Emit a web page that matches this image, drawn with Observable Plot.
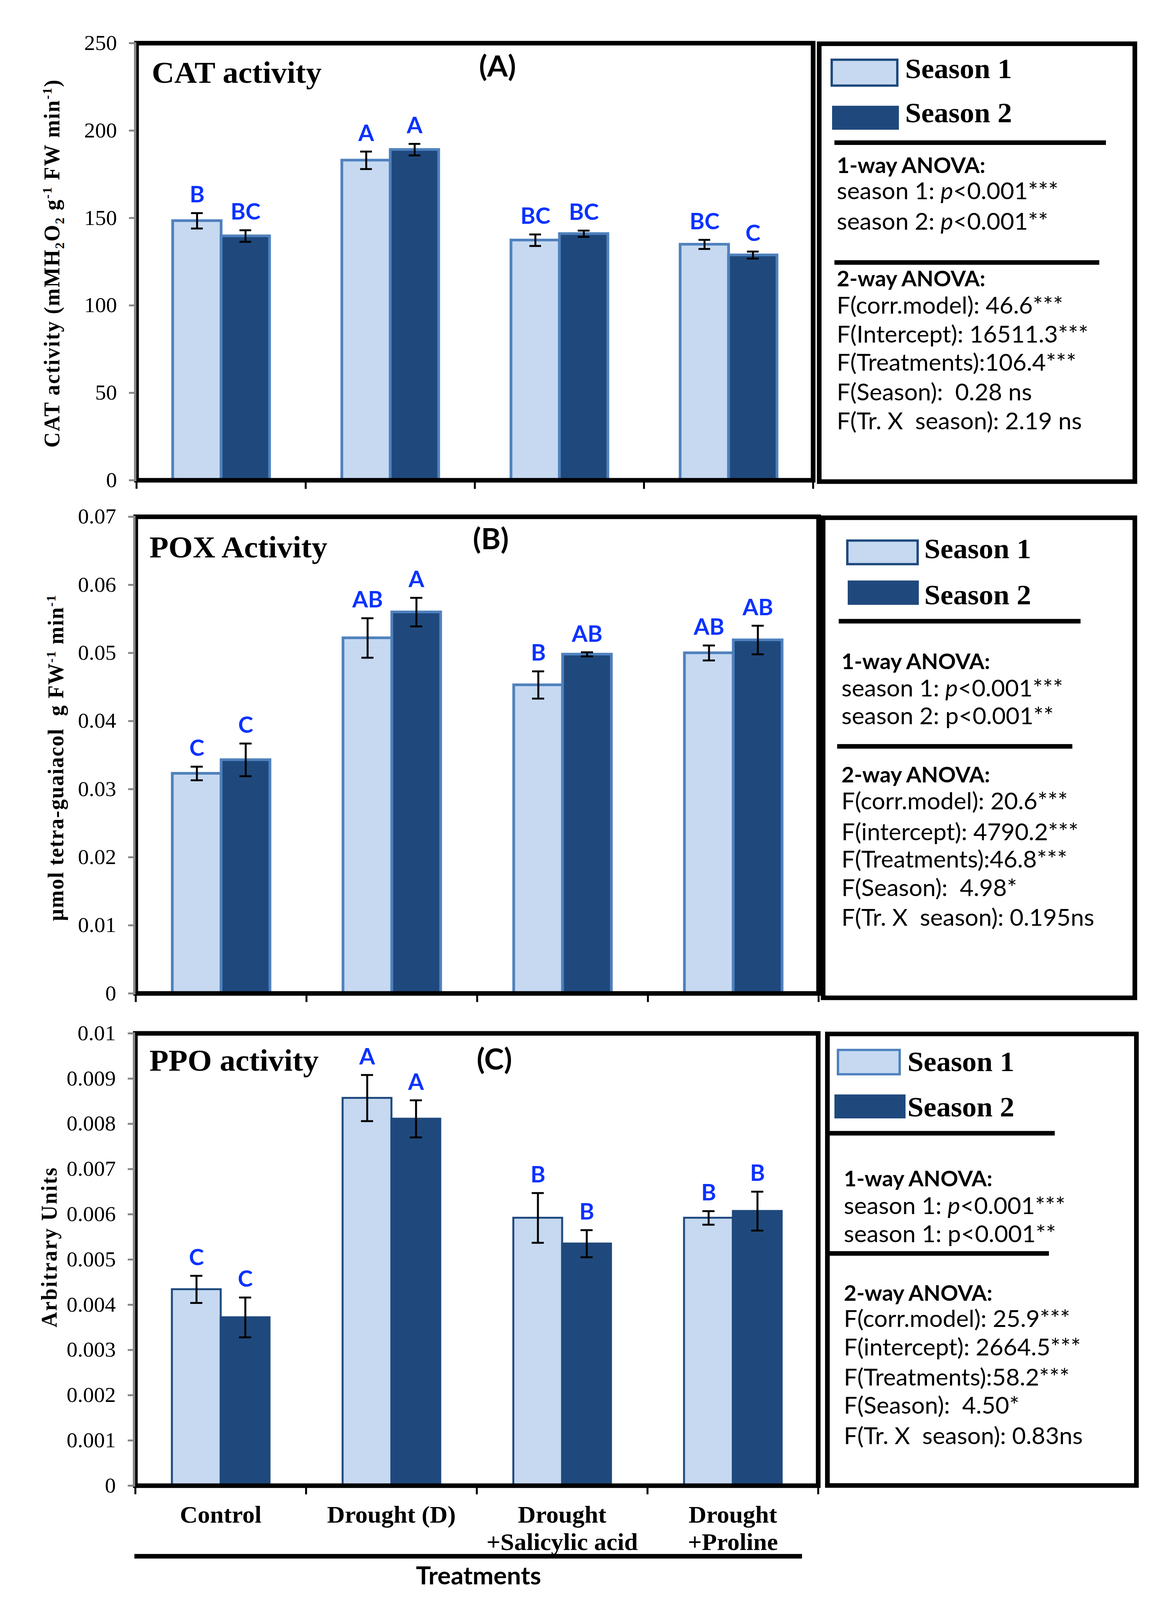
<!DOCTYPE html>
<html><head><meta charset="utf-8">
<script src="https://cdn.jsdelivr.net/npm/d3@7"></script>
<script src="https://cdn.jsdelivr.net/npm/@observablehq/plot@0.6"></script>
<style>
html,body{margin:0;padding:0;background:#fff;overflow:hidden;}
#viewport{position:relative;overflow:hidden;background:#fff;}
#page{position:absolute;left:0;top:0;width:2995px;height:4206px;background:#fff;transform-origin:0 0;}
sub,sup{font-size:0.6em;line-height:0;}
</style></head><body><div id="viewport"><div id="page"></div></div>
<script>
// ---------------- data ----------------
const treatments = ["Control", "Drought (D)", "Drought\n+Salicylic acid", "Drought\n+Proline"];
const seasons = ["Season 1", "Season 2"];

const catS1 = [148.4, 183.0, 137.3, 134.9];
const catS1Err = [4.4, 5.0, 3.3, 2.6];
const catS2 = [139.7, 189.1, 141.0, 128.8];
const catS2Err = [3.3, 3.3, 1.8, 2.0];
const catS1Letters = ["B", "A", "BC", "BC"];
const catS2Letters = ["BC", "A", "BC", "C"];
const catTicks = [0, 50, 100, 150, 200, 250];

const poxS1 = [0.0323, 0.0522, 0.0453, 0.0500];
const poxS1Err = [0.0010, 0.0029, 0.0020, 0.0011];
const poxS2 = [0.0343, 0.0560, 0.0498, 0.0519];
const poxS2Err = [0.0024, 0.0021, 0.0003, 0.0021];
const poxS1Letters = ["C", "AB", "B", "AB"];
const poxS2Letters = ["C", "A", "AB", "AB"];
const poxTicks = [0, 0.01, 0.02, 0.03, 0.04, 0.05, 0.06, 0.07];

const ppoS1 = [0.00434, 0.00857, 0.00592, 0.00592];
const ppoS1Err = [0.00030, 0.00051, 0.00055, 0.00015];
const ppoS2 = [0.00372, 0.00811, 0.00535, 0.00607];
const ppoS2Err = [0.00044, 0.00041, 0.00030, 0.00043];
const ppoS1Letters = ["C", "A", "B", "B"];
const ppoS2Letters = ["C", "A", "B", "B"];
const ppoTicks = [0, 0.001, 0.002, 0.003, 0.004, 0.005, 0.006, 0.007, 0.008, 0.009, 0.01];

const catOneWay = ["season 1: p<0.001***", "season 2: p<0.001**"];
const catOneWayItalicP = [true, true];
const catTwoWay = ["F(corr.model): 46.6***", "F(Intercept): 16511.3***", "F(Treatments):106.4***", "F(Season):  0.28 ns", "F(Tr. X  season): 2.19 ns"];
const poxOneWay = ["season 1: p<0.001***", "season 2: p<0.001**"];
const poxOneWayItalicP = [true, false];
const poxTwoWay = ["F(corr.model): 20.6***", "F(intercept): 4790.2***", "F(Treatments):46.8***", "F(Season):  4.98*", "F(Tr. X  season): 0.195ns"];
const ppoOneWay = ["season 1: p<0.001***", "season 1: p<0.001**"];
const ppoOneWayItalicP = [true, false];
const ppoTwoWay = ["F(corr.model): 25.9***", "F(intercept): 2664.5***", "F(Treatments):58.2***", "F(Season):  4.50*", "F(Tr. X  season): 0.83ns"];

// ---------------- layout helpers ----------------
const page = document.getElementById("page");
const S1FILL = "#C6D9F1", S2FILL = "#1F497D", MID = "#4F81BD", LETTER = "#0a32ff";
const SERIF = "Liberation Serif, Times New Roman, serif";
const SANS = "Lato, Open Sans, sans-serif";

function el(tag, css, html) {
  const d = document.createElement(tag);
  d.style.cssText = css;
  if (html != null) d.innerHTML = html;
  page.appendChild(d);
  return d;
}
function textAt(html, x, baseline, font, anchor) {
  const d = el("div", `position:absolute;left:${x}px;top:0px;white-space:pre;font:${font};line-height:1.2;` + (anchor === "middle" ? "transform:translateX(-50%);" : ""), html);
  const m = document.createElement("span");
  m.style.cssText = "display:inline-block;width:0;height:0;vertical-align:baseline;";
  d.appendChild(m);
  const off = m.getBoundingClientRect().top - d.getBoundingClientRect().top;
  d.style.top = (baseline - off) + "px";
  return d;
}
function esc(s) { return s.replace(/&/g, "&amp;").replace(/</g, "&lt;"); }
function box(l, t, r, b, w) {
  el("div", `position:absolute;box-sizing:border-box;left:${l}px;top:${t}px;width:${r - l}px;height:${b - t}px;border:${w}px solid #000;`);
}
function hline(x1, x2, yc, th) {
  el("div", `position:absolute;left:${x1}px;top:${yc - th / 2}px;width:${x2 - x1}px;height:${th}px;background:#000;`);
}
function swatch(x1, y1, x2, y2, fill, stroke, sw) {
  el("div", `position:absolute;box-sizing:border-box;left:${x1}px;top:${y1}px;width:${x2 - x1}px;height:${y2 - y1}px;background:${fill};` + (stroke ? `border:${sw}px solid ${stroke};` : ""));
}

// ---------------- panels ----------------
function panel(cfg) {
  const data = treatments.flatMap((t, i) => [
    {treatment: t, season: seasons[0], value: cfg.s1[i], err: cfg.s1Err[i], letter: cfg.s1Letters[i]},
    {treatment: t, season: seasons[1], value: cfg.s2[i], err: cfg.s2Err[i], letter: cfg.s2Letters[i]}
  ]);
  const marginTop = cfg.top - cfg.svgTop;
  const marginBottom = cfg.svgTop + cfg.svgHeight - cfg.bottom;
  const plotH = cfg.bottom - cfg.top;
  const width = cfg.right + 14;
  const cx = (cfg.left + cfg.right) / 2;
  const marks = [
    Plot.barY(data, {fx: "treatment", x: "season", y: "value", fill: "season", stroke: cfg.barStroke, strokeWidth: cfg.barStrokeWidth}),
    Plot.ruleX(data, {fx: "treatment", x: "season", y1: d => d.value - d.err, y2: d => d.value + d.err, stroke: "#000", strokeWidth: 5}),
    Plot.tickY(data, {fx: "treatment", x: "season", y: d => d.value + d.err, stroke: "#000", strokeWidth: 5, insetLeft: 47, insetRight: 47}),
    Plot.tickY(data, {fx: "treatment", x: "season", y: d => d.value - d.err, stroke: "#000", strokeWidth: 5, insetLeft: 47, insetRight: 47}),
    Plot.text(data, {fx: "treatment", x: "season", y: d => d.value + d.err, text: "letter", lineAnchor: "bottom", dy: -28,
      fill: LETTER, fontFamily: SANS, fontWeight: "bold", fontSize: 58}),
    Plot.frame({facet: "super", stroke: "#000", strokeWidth: 12}),
    Plot.frame({facet: "super", anchor: "left", stroke: "#878787", strokeWidth: 5, dx: -3}),
    Plot.frame({anchor: "left", stroke: "#000", strokeWidth: 5, insetTop: plotH, insetBottom: -20}),
    Plot.frame({anchor: "right", stroke: "#000", strokeWidth: 5, insetTop: plotH, insetBottom: -20}),
    Plot.axisY({ticks: cfg.ticks, tickSize: 19, tickPadding: 31, stroke: "#878787", strokeWidth: 5, fill: "#000",
      fontSize: 56, fontFamily: SERIF, fontWeight: "normal", tickFormat: d3.format("~g"), label: null}),
    Plot.text([cfg.title], {facet: "super", frameAnchor: "top-left", dx: cfg.titleX - cfg.left, dy: cfg.titleBase - cfg.top,
      lineAnchor: "bottom", textAnchor: "start", fontFamily: SERIF, fontWeight: "bold", fontSize: 80, fill: "#000"}),
    Plot.text([cfg.tag], {facet: "super", frameAnchor: "top", dx: cfg.tagX - cx, dy: cfg.tagBase - cfg.top,
      lineAnchor: "bottom", textAnchor: "middle", fontFamily: SANS, fontWeight: "bold", fontSize: 76, fill: "#000"})
  ];
  if (cfg.showFx) {
    marks.push(Plot.axisFx({anchor: "bottom", tickSize: 0, tickPadding: 47, fontSize: 63, fontFamily: SERIF,
      fontWeight: "bold", lineHeight: 1.13, fill: "#000", label: null}));
  }
  const chart = Plot.plot({
    width, height: cfg.svgHeight,
    marginLeft: cfg.left, marginRight: width - cfg.right, marginTop, marginBottom,
    style: {background: "transparent", overflow: "visible", maxWidth: "none", color: "#000", fontFamily: SERIF},
    fx: {domain: treatments, padding: 0, axis: null, label: null},
    x: {domain: seasons, paddingInner: 0, paddingOuter: 0.745, axis: null},
    y: {domain: [0, cfg.ticks[cfg.ticks.length - 1]]},
    color: {domain: seasons, range: [S1FILL, S2FILL]},
    marks
  });
  const wrap = el("div", `position:absolute;left:0;top:${cfg.svgTop}px;width:${width}px;height:${cfg.svgHeight}px;`);
  wrap.appendChild(chart);
}

panel({svgTop: 0, svgHeight: 1300, top: 113, bottom: 1262, left: 349, right: 2081,
  s1: catS1, s1Err: catS1Err, s2: catS2, s2Err: catS2Err, s1Letters: catS1Letters, s2Letters: catS2Letters,
  ticks: catTicks, barStroke: MID, barStrokeWidth: 7,
  title: "CAT activity", titleX: 388, titleBase: 217, tag: "(A)", tagX: 1273, tagBase: 201, showFx: false});
panel({svgTop: 1300, svgHeight: 1340, top: 1358, bottom: 2611, left: 347, right: 2095,
  s1: poxS1, s1Err: poxS1Err, s2: poxS2, s2Err: poxS2Err, s1Letters: poxS1Letters, s2Letters: poxS2Letters,
  ticks: poxTicks, barStroke: MID, barStrokeWidth: 7,
  title: "POX Activity", titleX: 382, titleBase: 1465, tag: "(B)", tagX: 1256, tagBase: 1443, showFx: false});
panel({svgTop: 2650, svgHeight: 1450, top: 2716, bottom: 3905, left: 346, right: 2094,
  s1: ppoS1, s1Err: ppoS1Err, s2: ppoS2, s2Err: ppoS2Err, s1Letters: ppoS1Letters, s2Letters: ppoS2Letters,
  ticks: ppoTicks, barStroke: S2FILL, barStrokeWidth: 5,
  title: "PPO activity", titleX: 382, titleBase: 2814, tag: "(C)", tagX: 1265, tagBase: 2811, showFx: true});

// ---------------- y-axis titles ----------------
function yTitle(html, cx, cy, spacing) {
  el("div", `position:absolute;left:${cx}px;top:${cy}px;white-space:nowrap;font:bold 56px ${SERIF};letter-spacing:${spacing}px;line-height:1;transform:translate(-50%,-50%) rotate(-90deg);`, html);
}
yTitle("CAT activity (mMH<sub>2</sub>O<sub>2</sub> g<sup>-1</sup> FW min<sup>-1</sup>)", 133, 692, 2.5);
yTitle("µmol tetra-guaiacol&nbsp; g FW<sup>-1</sup> min<sup>-1</sup>", 143, 1992, 2);
yTitle("Arbitrary Units", 126, 3278, 3);

// ---------------- x title ----------------
hline(344, 2053, 4091, 12);
textAt("Treatments", 1225, 4165, `bold 64px ${SANS}`, "middle");

// ---------------- legend / ANOVA boxes ----------------
function legend(L) {
  box(L.l, L.t, L.r, L.b, 12);
  swatch(...L.sw1, S1FILL, L.sw1Stroke, 6);
  swatch(...L.sw2, S2FILL, null, 0);
  textAt(seasons[0], L.seasonX, L.seasonBase[0], `bold 74px ${SERIF}`);
  textAt(seasons[1], L.seasonX, L.seasonBase[1], `bold 74px ${SERIF}`);
  hline(L.sep1[0], L.sep1[1], L.sep1[2], 12);
  hline(L.sep2[0], L.sep2[1], L.sep2[2], 12);
  textAt("1-way ANOVA:", L.textX, L.base[0], `bold 56px ${SANS}`);
  L.oneWay.forEach((s, i) => {
    let h = esc(s);
    if (L.italic[i]) h = h.replace("p&lt;", "<i>p</i>&lt;");
    textAt(h, L.textX, L.base[1 + i], `61px ${SANS}`);
  });
  textAt("2-way ANOVA:", L.textX, L.base[3], `bold 56px ${SANS}`);
  L.twoWay.forEach((s, i) => textAt(esc(s), L.textX, L.base[4 + i], `61px ${SANS}`));
}
legend({l: 2091, t: 109, r: 2911, b: 1272, sw1: [2126, 154, 2300, 228], sw1Stroke: S2FILL, sw2: [2130, 278, 2301, 341],
  seasonX: 2317, seasonBase: [205, 321], sep1: [2136, 2831, 375], sep2: [2136, 2814, 690],
  textX: 2142, base: [455, 524, 604, 753, 825, 901, 974, 1053, 1129],
  oneWay: catOneWay, italic: catOneWayItalicP, twoWay: catTwoWay});
legend({l: 2101, t: 1355, r: 2911, b: 2629, sw1: [2166, 1418, 2352, 1486], sw1Stroke: S2FILL, sw2: [2170, 1526, 2352, 1590],
  seasonX: 2366, seasonBase: [1467, 1589], sep1: [2147, 2766, 1633], sep2: [2143, 2745, 1962],
  textX: 2154, base: [1759, 1831, 1904, 2057, 2128, 2209, 2281, 2356, 2434],
  oneWay: poxOneWay, italic: poxOneWayItalicP, twoWay: poxTwoWay});
legend({l: 2112, t: 2712, r: 2915, b: 3911, sw1: [2142, 2757, 2306, 2827], sw1Stroke: MID, sw2: [2136, 2877, 2318, 2940],
  seasonX: 2323, seasonBase: [2816, 2935], sep1: [2112, 2700, 2979], sep2: [2112, 2685, 3295],
  textX: 2160, base: [3119, 3191, 3265, 3419, 3488, 3563, 3642, 3716, 3796],
  oneWay: ppoOneWay, italic: ppoOneWayItalicP, twoWay: ppoTwoWay});

// ---------------- fit the 2995x4206 figure into the actual viewport ----------------
const vw = window.innerWidth || 2995, vh = window.innerHeight || 4206;
const vp = document.getElementById("viewport");
vp.style.width = vw + "px";
vp.style.height = vh + "px";
const sx = Math.min(1, vw / 2995), sy = Math.min(1, vh / 4206);
if (sx < 1 || sy < 1) page.style.transform = `scale(${sx},${sy})`;
</script>
</body></html>
